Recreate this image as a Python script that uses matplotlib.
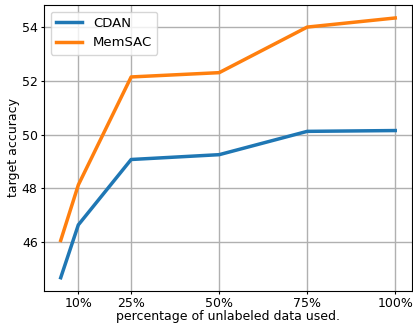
import matplotlib
matplotlib.use("Agg")
import matplotlib.pyplot as plt

x_vals = [5, 10, 25, 50, 75, 100]
cdan = [44.66, 46.63, 49.07, 49.25, 50.12, 50.15]
memsac = [46.05, 48.12, 52.15, 52.31, 54.01, 54.35]
tick_pos = [10, 25, 50, 75, 100]
tick_labels = ["10%", "25%", "50%", "75%", "100%"]

fig = plt.figure(figsize=(4.13, 3.24), dpi=100)
ax = fig.add_axes([0.1065, 0.1028, 0.891, 0.8818])
ax.plot(x_vals, cdan, color="#1f77b4", lw=2.5, label="CDAN")
ax.plot(x_vals, memsac, color="#ff7f0e", lw=2.5, label="MemSAC")
ax.set_xticks(tick_pos)
ax.set_xticklabels(tick_labels)
ax.set_yticks([46, 48, 50, 52, 54])
ax.tick_params(labelsize=9, length=2.5, pad=2)
ax.grid(True, color="#b0b0b0", lw=1)
ax.set_axisbelow(True)
ax.set_xlabel("percentage of unlabeled data used.", fontsize=9, labelpad=0)
ax.set_ylabel("target accuracy", fontsize=9, labelpad=1)
ax.legend(loc="upper left", fontsize=9.5)
fig.savefig("out.png", dpi=100)
